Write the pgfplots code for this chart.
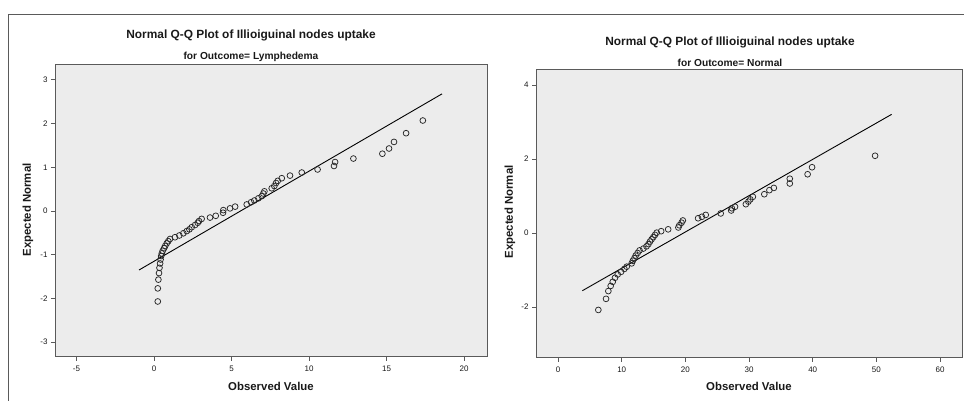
\documentclass[border=0pt]{standalone}
\usepackage{pgfplots}
\pgfplotsset{compat=1.18}
\usepackage{fontspec}
\setmainfont{Liberation Sans}
\definecolor{plotbg}{RGB}{236,236,236}
\definecolor{frame}{RGB}{90,90,90}
\definecolor{ptc}{RGB}{40,40,40}
\pgfplotsset{qq/.style={
  scale only axis, anchor=south west,
  axis background/.style={fill=plotbg},
  axis line style={frame, line width=1pt},
  tick align=outside, tick pos=left,
  major tick length=4pt,
  tick style={frame, line width=0.8pt},
  ticklabel style={font=\fontsize{8}{9}\selectfont, text=black!90},
  /pgf/number format/assume math mode=true,
  xticklabel style={yshift=-1pt},
}}
\pgfplotstableread{
x y
0.24 -2.07
0.24 -1.77
0.28 -1.57
0.32 -1.42
0.35 -1.30
0.39 -1.20
0.42 -1.11
0.46 -1.03
0.50 -0.97
0.56 -0.91
0.65 -0.85
0.72 -0.80
0.82 -0.74
0.92 -0.69
1.03 -0.64
1.35 -0.60
1.63 -0.56
1.89 -0.51
2.11 -0.46
2.28 -0.42
2.43 -0.37
2.65 -0.32
2.82 -0.27
2.90 -0.23
3.07 -0.18
3.61 -0.15
3.98 -0.11
4.45 -0.04
4.47 0.02
4.90 0.06
5.23 0.10
5.98 0.15
6.26 0.20
6.47 0.24
6.73 0.29
6.95 0.34
7.05 0.40
7.12 0.45
7.59 0.52
7.76 0.57
7.87 0.64
7.98 0.69
8.24 0.75
8.77 0.81
9.53 0.88
10.55 0.95
11.61 1.03
11.68 1.12
12.86 1.20
14.73 1.31
15.16 1.43
15.48 1.58
16.26 1.78
17.34 2.07
}\lymph
\pgfplotstableread{
x y
6.33 -2.08
7.54 -1.78
7.90 -1.57
8.27 -1.43
8.59 -1.32
8.95 -1.21
9.37 -1.12
9.90 -1.05
10.42 -0.97
10.79 -0.91
11.57 -0.82
11.75 -0.75
12.00 -0.68
12.20 -0.61
12.50 -0.54
12.80 -0.47
13.40 -0.42
13.90 -0.36
14.20 -0.30
14.45 -0.23
14.70 -0.17
14.97 -0.11
15.23 -0.05
15.50 0.01
16.20 0.05
17.30 0.10
18.90 0.15
19.05 0.21
19.40 0.28
19.60 0.34
22.00 0.40
22.60 0.44
23.20 0.49
25.55 0.53
27.20 0.61
27.30 0.67
27.80 0.71
29.50 0.78
29.90 0.85
30.20 0.91
30.60 0.98
32.40 1.05
33.20 1.16
33.90 1.22
36.40 1.34
36.40 1.47
39.20 1.59
39.90 1.78
49.80 2.09
}\normal
\begin{document}
\begin{tikzpicture}
\path[use as bounding box] (0,0) rectangle (964pt,401pt);
\begin{axis}[qq, at={(55pt,44pt)}, width=432pt, height=292pt,
  xmin=-6.39, xmax=21.48, ymin=-3.34, ymax=3.34,
  xtick={-5,0,5,10,15,20}, ytick={-3,-2,-1,0,1,2,3}]
\addplot[black, line width=0.9pt] coordinates {(-0.97,-1.35) (18.58,2.68)};
\addplot[only marks, mark=o, mark size=2.9pt, mark options={draw=ptc, line width=0.75pt}] table[x=x,y=y] {\lymph};
\end{axis}
\begin{axis}[qq, at={(536pt,43pt)}, width=426pt, height=288pt,
  xmin=-3.46, xmax=63.45, ymin=-3.38, ymax=4.41,
  xtick={0,10,20,30,40,50,60}, ytick={-2,0,2,4}]
\addplot[black, line width=0.9pt] coordinates {(3.82,-1.56) (52.4,3.21)};
\addplot[only marks, mark=o, mark size=2.9pt, mark options={draw=ptc, line width=0.75pt}] table[x=x,y=y] {\normal};
\end{axis}
\draw[frame, line width=1pt] (8pt,0pt) -- (8pt,386pt) -- (964pt,386pt);
\node[font=\bfseries\fontsize{11.9}{13}\selectfont, text=black!90] at (251pt,366pt) {Normal Q-Q Plot of Illioiguinal nodes uptake};
\node[font=\bfseries\fontsize{10.2}{12}\selectfont, text=black!90] at (251pt,344pt) {for Outcome= Lymphedema};
\node[font=\bfseries\fontsize{11.9}{13}\selectfont, text=black!90] at (730pt,359pt) {Normal Q-Q Plot of Illioiguinal nodes uptake};
\node[font=\bfseries\fontsize{10.2}{12}\selectfont, text=black!90] at (730pt,338pt) {for Outcome= Normal};
\node[font=\bfseries\fontsize{11.4}{13}\selectfont, text=black!90, rotate=90] at (28pt,191pt) {Expected Normal};
\node[font=\bfseries\fontsize{11.4}{13}\selectfont, text=black!90, rotate=90] at (510pt,189pt) {Expected Normal};
\node[font=\bfseries\fontsize{11.4}{13}\selectfont, text=black!90] at (271pt,15pt) {Observed Value};
\node[font=\bfseries\fontsize{11.4}{13}\selectfont, text=black!90] at (749pt,15pt) {Observed Value};
\end{tikzpicture}
\end{document}
